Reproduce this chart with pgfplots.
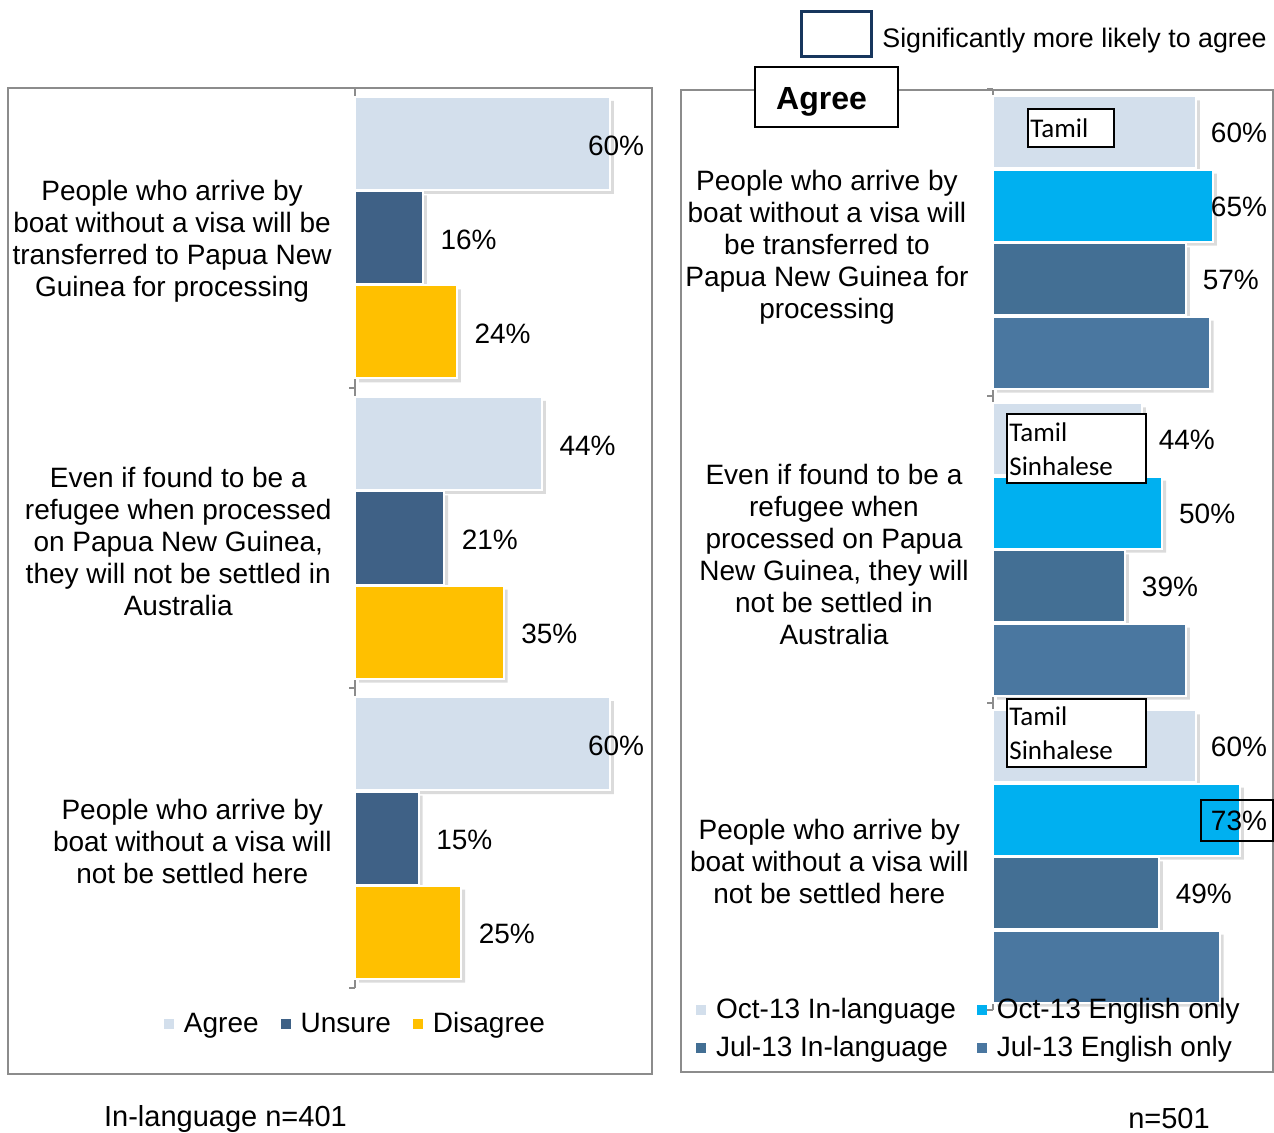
\documentclass[border=0pt]{standalone}
\usepackage{fontspec}
\setmainfont{Liberation Sans}
\newfontfamily\calibri{Carlito}
\usepackage{pgfplots}
\usepackage{pgfplotstable}
\pgfplotsset{compat=1.18}

\definecolor{cagree}{HTML}{D3DFEC}
\definecolor{cunsure}{HTML}{3F6186}
\definecolor{cdis}{HTML}{FFC000}
\definecolor{ceng}{HTML}{00B0F0}
\definecolor{cjulin}{HTML}{436F94}
\definecolor{cjuleng}{HTML}{4A77A0}
\definecolor{cframe}{HTML}{8C8C8C}
\definecolor{cnavy}{HTML}{17365D}

\newcommand\fs{\fontsize{14}{16}\selectfont}

% g: 2 = top statement, 0 = bottom statement
\pgfplotstableread{
g agree unsure disagree
2 60 16 24
1 44 21 35
0 60 15 25
}\lefttab

\pgfplotstableread{
g octin octeng julin juleng
2 60 65 57 64
1 44 50 39 57
0 60 73 49 67
}\righttab

\pgfplotsset{
  panel/.style={
    scale only axis, xbar, xmin=0, ymin=-0.5, ymax=2.5,
    hide x axis, axis y line*=left,
    axis line style={cframe, line width=1pt},
    ytick={0,1,2}, major tick length=0pt,
    yticklabel style={font=\fs, align=center, anchor=east, inner sep=0pt,
      xshift=-11.5pt, yshift=-1.5pt},
    extra y ticks={-0.5,0.5,1.5,2.5}, extra y tick labels={},
    extra tick style={major tick length=3pt, tick align=outside,
      tick style={cframe, line width=1pt}},
    clip=false,
    /pgf/number format/assume math mode=true,
    legend image code/.code={\fill[##1, draw=none] (0pt,-2.5pt) rectangle (5pt,2.5pt);},
    legend cell align=left,
    legend style={draw=none, fill=none, font=\fs, anchor=center,
      nodes={inner sep=1.5pt}, row sep=4.5pt,
      /tikz/every odd column/.append style={column sep=3.5pt},
      /tikz/every even column/.append style={column sep=9.5pt}},
  },
  bars/.style={fill=#1, draw=white, line width=1pt},
  shade/.style={forget plot, fill=black!14, draw=none, xshift=2pt, bar shift=#1},
  leftlab/.style={point meta=x,
    visualization depends on={\thisrow{#1} \as \lv},
    nodes near coords={\pgfmathprintnumber{\pgfplotspointmeta}\%},
    every node near coord/.append style={font=\fs, anchor=west, inner sep=0pt,
      yshift=-1pt, xshift={min(8.3,(54.6-\lv)*2.125)}}},
  rightlab/.style={point meta=x,
    visualization depends on={\thisrow{#1} \as \lv},
    nodes near coords={\pgfmathprintnumber{\pgfplotspointmeta}\%},
    every node near coord/.append style={font=\fs, anchor=west, inner sep=0pt,
      yshift=-0.5pt, xshift={min(8,(64.14-\lv)*1.6917)}}},
}

\begin{document}
\begin{tikzpicture}
\useasboundingbox (0,0) rectangle (637pt,-566.5pt);
\begin{scope}[x=0.5pt,y=-0.5pt]
  \draw[cframe, line width=1pt] (8,88) rectangle (652,1074);
  \draw[cframe, line width=1pt] (681,90) rectangle (1273,1072);
\end{scope}

% left panel: in-language
\begin{axis}[panel, at={(177.5pt,-494pt)}, anchor=south west,
  width=144.5pt, height=450pt, xmax=68, bar width=46.5pt,
  yticklabels={{People who arrive by\\boat without a visa will\\not be settled here},
    {Even if found to be a\\refugee when processed\\on Papua New Guinea,\\they will not be settled in\\Australia},
    {People who arrive by\\boat without a visa will be\\transferred to Papua New\\Guinea for processing}},
  legend columns=3,
  legend style={at={(0.0035,-0.04)}},
]
\addplot[shade=45.25pt] table[x=agree, y=g] {\lefttab};
\addplot[shade=-2pt] table[x=unsure, y=g] {\lefttab};
\addplot[shade=-49pt] table[x=disagree, y=g] {\lefttab};
\addplot[bars=cagree, bar shift=47.25pt, leftlab=agree] table[x=agree, y=g] {\lefttab};
\addplot[bars=cunsure, bar shift=0pt, leftlab=unsure] table[x=unsure, y=g] {\lefttab};
\addplot[bars=cdis, bar shift=-47pt, leftlab=disagree] table[x=disagree, y=g] {\lefttab};
\legend{Agree, Unsure, Disagree}
\end{axis}

% right panel: agree by wave
\begin{axis}[panel, at={(496.5pt,-505pt)}, anchor=south west,
  width=138.7pt, height=460.5pt, xmax=82, bar width=36pt,
  yticklabel style={xshift=-0.5pt, yshift=-1pt},
  yticklabels={{People who arrive by\\boat without a visa will\\not be settled here},
    {Even if found to be a\\refugee when\\processed on Papua\\New Guinea, they will\\not be settled in\\Australia},
    {People who arrive by\\boat without a visa will\\be transferred to\\Papua New Guinea for\\processing}},
  legend columns=2,
  legend style={at={(-0.085,-0.0206)}, /tikz/every even column/.append style={column sep=9pt}},
]
\addplot[shade=53.1pt] table[x=octin, y=g] {\righttab};
\addplot[shade=16.4pt] table[x=octeng, y=g] {\righttab};
\addplot[shade=-20.4pt] table[x=julin, y=g] {\righttab};
\addplot[shade=-57.1pt] table[x=juleng, y=g] {\righttab};
\addplot[bars=cagree, bar shift=55.1pt, rightlab=octin] table[x=octin, y=g] {\righttab};
\addplot[bars=ceng, bar shift=18.4pt, rightlab=octeng] table[x=octeng, y=g] {\righttab};
\addplot[bars=cjulin, bar shift=-18.4pt, rightlab=julin] table[x=julin, y=g] {\righttab};
\addplot[bars=cjuleng, bar shift=-55.1pt] table[x=juleng, y=g] {\righttab};
\legend{Oct-13 In-language, Oct-13 English only, Jul-13 In-language, Jul-13 English only}
\end{axis}

\begin{scope}[x=0.5pt,y=-0.5pt]
  % significance key
  \draw[cnavy, line width=1.5pt] (801,12) rectangle (871,57);
  \node[font=\fontsize{13.4}{16}\selectfont, anchor=west, inner sep=0pt] at (882,41) {Significantly more likely to agree};
  % panel title
  \draw[black, fill=white, line width=0.8pt] (755,67) rectangle (898,127);
  \node[font=\fontsize{16}{19}\selectfont\bfseries] at (821.5,102) {Agree};
  % group notes
  \draw[black, fill=white, line width=0.8pt] (1028,109) rectangle (1114,147);
  \node[font=\calibri\fontsize{13.5}{17}\selectfont, anchor=west, inner sep=0pt] at (1030,128) {Tamil};
  \draw[black, fill=white, line width=0.8pt] (1007,414) rectangle (1146,483);
  \node[font=\calibri\fontsize{13.5}{17}\selectfont, anchor=west, align=left, inner sep=0pt] at (1009,449) {Tamil\\Sinhalese};
  \draw[black, fill=white, line width=0.8pt] (1007,699) rectangle (1146,767);
  \node[font=\calibri\fontsize{13.5}{17}\selectfont, anchor=west, align=left, inner sep=0pt] at (1009,733) {Tamil\\Sinhalese};
  \draw[black, line width=0.8pt] (1201,800) rectangle (1273,841);
  % sample sizes
  \node[font=\fontsize{14.5}{17}\selectfont] at (225.5,1119) {In-language n=401};
  \node[font=\fontsize{14.5}{17}\selectfont] at (1169,1119) {n=501};
\end{scope}
\end{tikzpicture}
\end{document}
